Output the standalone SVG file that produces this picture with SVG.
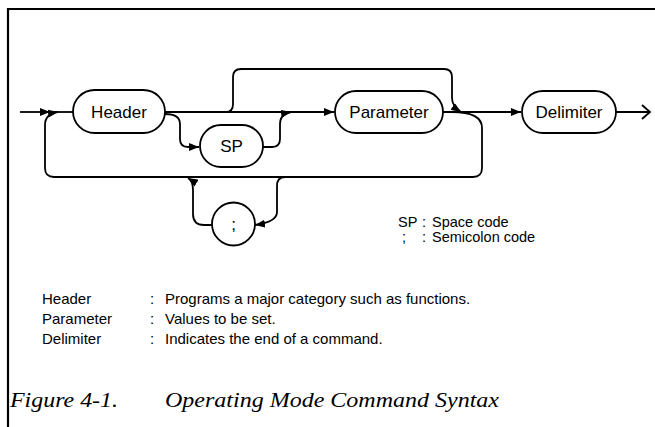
<svg xmlns="http://www.w3.org/2000/svg" width="655" height="427" viewBox="0 0 655 427">
<defs>
<style>
.frame{stroke:#000;stroke-width:2.2;fill:none}
.node{fill:#fff;stroke:#000;stroke-width:1.8}
.lbl{font-family:"Liberation Sans",Arial,sans-serif;font-size:17px;fill:#000;text-anchor:middle}
.conn{fill:none;stroke:#000;stroke-width:1.8}
.key{font-family:"Liberation Sans",Arial,sans-serif;font-size:14.5px;fill:#000}
.leg{font-family:"Liberation Sans",Arial,sans-serif;font-size:15px;fill:#000}
.cap{font-family:"Liberation Serif","Times New Roman",serif;font-style:italic;font-size:22px;fill:#000}
</style>
<marker id="ah" viewBox="0 0 10 8" refX="10" refY="4" markerWidth="10" markerHeight="8" markerUnits="userSpaceOnUse" orient="auto">
<path d="M0,0 L10,4 L0,8 Z" fill="#000"/>
</marker>
</defs>
<rect width="655" height="427" fill="#fff"/>
<path class="frame" d="M7,9 H655 M8,8 V427"/>

<g id="connectors">
<path class="conn" d="M20,112 H50" marker-end="url(#ah)"/>
<path class="conn" d="M50,112 H73"/>
<path class="conn" d="M165,112 H334" marker-end="url(#ah)"/>
<path class="conn" d="M226,112 Q233,112 233,104 V77 Q233,69 241,69 H444 Q452,69 452,77 V98 Q452,106 461,112" marker-end="url(#ah)"/>
<path class="conn" d="M443,112 H521" marker-end="url(#ah)"/>
<path class="conn" d="M616,112 H650 M642,105 L650,112 L642,119"/>
<path class="conn" d="M165,114 Q180,114 180,124 V139 Q180,147 188,147 H199" marker-end="url(#ah)"/>
<path class="conn" d="M263,147 H272 Q280,147 280,139 V124 Q280,114 291,112" marker-end="url(#ah)"/>
<path class="conn" d="M452,112 Q482,112 482,128 V168 Q482,177 473,177 H54 Q45,177 45,168 V125 Q45,114 58,112" marker-end="url(#ah)"/>
<path class="conn" d="M285,177 Q277,177 277,186 V212 Q277,222 255,225" marker-end="url(#ah)"/>
<path class="conn" d="M212,225 H204 Q193,225 193,214 V190 Q193,181 188,178" marker-end="url(#ah)"/>
</g>

<g id="header">
<rect class="node" x="73" y="90" width="92" height="43" rx="21.5"/>
<text class="lbl" x="119" y="118">Header</text>
</g>
<g id="sp">
<rect class="node" x="200" y="125" width="63" height="42" rx="21"/>
<text class="lbl" x="231.5" y="152">SP</text>
</g>
<g id="parameter">
<rect class="node" x="335" y="91" width="108" height="42" rx="21"/>
<text class="lbl" x="389" y="118">Parameter</text>
</g>
<g id="delimiter">
<rect class="node" x="522" y="91" width="94" height="42" rx="21"/>
<text class="lbl" x="569" y="118">Delimiter</text>
</g>
<g id="semicolon">
<circle class="node" cx="233.5" cy="224" r="21.5"/>
<text class="lbl" x="233.5" y="230">;</text>
</g>

<g id="key">
<text class="key" x="398" y="227">SP</text>
<text class="key" x="422" y="227">:</text>
<text class="key" x="432" y="227">Space code</text>
<text class="key" x="402" y="242">;</text>
<text class="key" x="422" y="242">:</text>
<text class="key" x="432" y="242">Semicolon code</text>
</g>

<g id="legend">
<text class="leg" x="42" y="304">Header</text>
<text class="leg" x="150" y="304">:</text>
<text class="leg" x="165" y="304">Programs a major category such as functions.</text>
<text class="leg" x="42" y="324">Parameter</text>
<text class="leg" x="150" y="324">:</text>
<text class="leg" x="165" y="324">Values to be set.</text>
<text class="leg" x="42" y="344">Delimiter</text>
<text class="leg" x="150" y="344">:</text>
<text class="leg" x="165" y="344">Indicates the end of a command.</text>
</g>

<g id="caption">
<text class="cap" x="10" y="407" textLength="108" lengthAdjust="spacingAndGlyphs">Figure 4-1.</text>
<text class="cap" x="165" y="407" textLength="334" lengthAdjust="spacingAndGlyphs">Operating Mode Command Syntax</text>
</g>
</svg>
